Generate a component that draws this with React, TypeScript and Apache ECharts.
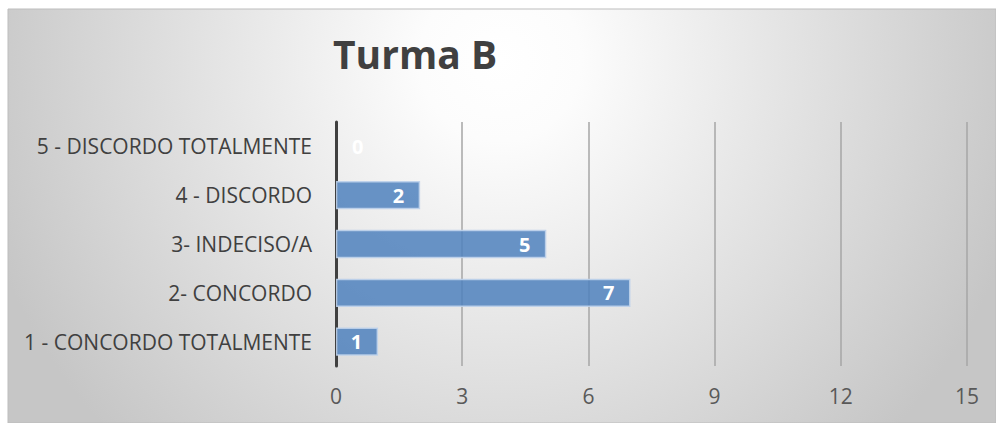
import React, { useEffect, useRef } from "react";
import * as echarts from "echarts";

const categories = [
  "1 - CONCORDO TOTALMENTE",
  "2- CONCORDO",
  "3- INDECISO/A",
  "4 - DISCORDO",
  "5 - DISCORDO TOTALMENTE",
];
const values = [1, 7, 5, 2, 0];
const titleText = "Turma B";
const xMin = 0;
const xMax = 15;
const xInterval = 3;

export default function App() {
  const ref = useRef<HTMLDivElement>(null);
  useEffect(() => {
    document.body.style.margin = "0";
    const chart = echarts.init(ref.current!, null, { renderer: "svg" });
    const font = "'Open Sans', 'Noto Sans', sans-serif";
    chart.setOption({
      animation: false,
      graphic: [
        {
          type: "rect",
          silent: true,
          z: -10,
          shape: { x: 8, y: 9, width: 988, height: 414 },
          style: {
            fill: new echarts.graphic.RadialGradient(
              500,
              60,
              540,
              [
                { offset: 0, color: "#ffffff" },
                { offset: 0.15, color: "#fcfcfc" },
                { offset: 1, color: "#c6c6c6" },
              ],
              true
            ),
            stroke: "#bdbdbd",
            lineWidth: 1,
          },
        },
        {
          type: "text",
          left: 333,
          top: 34,
          style: {
            text: titleText,
            font: `bold 39px ${font}`,
            fill: "#404040",
          },
        },
      ],
      grid: { left: 336, right: 29, top: 122, bottom: 57, containLabel: false },
      xAxis: {
        type: "value",
        min: xMin,
        max: xMax,
        interval: xInterval,
        axisLine: { show: false },
        axisTick: { show: false },
        splitLine: { show: true, lineStyle: { color: "#a6a6a6", width: 1.5 } },
        axisLabel: {
          color: "#595959",
          fontFamily: font,
          fontSize: 21,
          margin: 19,
        },
      },
      yAxis: {
        type: "category",
        data: categories,
        axisLine: { show: true, lineStyle: { color: "#404040", width: 3 } },
        axisTick: { show: false },
        axisLabel: {
          color: "#404040",
          fontFamily: font,
          fontSize: 21,
          margin: 24,
        },
      },
      series: [
        {
          type: "bar",
          data: values.map((v) =>
            v === 0
              ? {
                  value: v,
                  itemStyle: { borderWidth: 0 },
                  label: { position: "right", distance: 16 },
                }
              : v
          ),
          barCategoryGap: "42%",
          itemStyle: {
            color: "rgba(79,129,189,0.85)",
            borderColor: "rgba(190,210,235,0.9)",
            borderWidth: 1.5,
          },
          label: {
            show: true,
            position: "insideRight",
            distance: 16,
            color: "#ffffff",
            fontWeight: "bold",
            fontFamily: font,
            fontSize: 20,
          },
        },
      ],
    });
    return () => chart.dispose();
  }, []);
  return <div ref={ref} style={{ width: 996, height: 423 }} />;
}
